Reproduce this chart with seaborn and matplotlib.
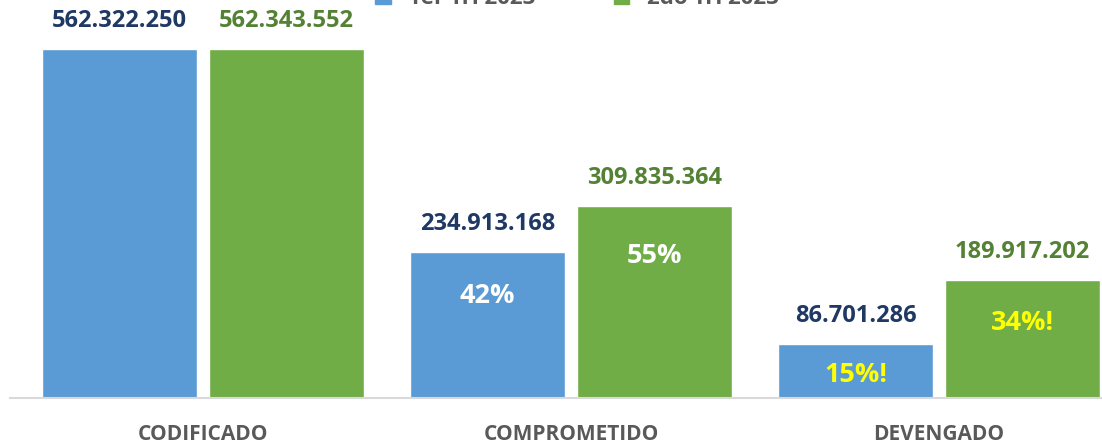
import pandas as pd
import matplotlib.pyplot as plt
import seaborn as sns
from matplotlib.patches import Patch

categories = ["CODIFICADO", "COMPROMETIDO", "DEVENGADO"]
periods = ["1er Tri 2023", "2do Tri 2023"]
q1_values = [562322250, 234913168, 86701286]
q2_values = [562343552, 309835364, 189917202]
q1_pct = [None, "42%", "15%!"]
q2_pct = [None, "55%", "34%!"]

blue = "#5B9BD5"
green = "#70AD47"

df = pd.DataFrame({
    "categoria": categories * 2,
    "periodo": [periods[0]] * 3 + [periods[1]] * 3,
    "valor": q1_values + q2_values,
})

sns.set_theme(style="white")
plt.rcParams["font.family"] = ["Open Sans", "DejaVu Sans"]

fig = plt.figure(figsize=(11.02, 4.45), dpi=100)
ax = fig.add_axes([0, 47 / 445, 1, 398 / 445])

sns.barplot(data=df, x="categoria", y="valor", hue="periodo", palette=[blue, green],
            width=0.9076, gap=0.0718, ax=ax, legend=False, saturation=1)

ax.set_xlim(-0.552, 2.443)
ax.set_ylim(0, 641.3e6)
for s in ["top", "left", "right"]:
    ax.spines[s].set_visible(False)
ax.spines["bottom"].set_color("#D9D9D9")
ax.spines["bottom"].set_linewidth(1.5)
ax.spines["bottom"].set_bounds(-0.524, 2.443)
ax.set_yticks([])
ax.set_xlabel("")
ax.set_ylabel("")
ax.tick_params(axis="x", length=0, pad=19)
ax.set_xticks(range(3))
ax.set_xticklabels(categories, fontsize=15, fontweight="bold", color="#595959")

# label positions inside bars (fraction of bar height), as drawn in the original
pct_pos = [[None, 0.70, 0.43], [None, 0.74, 0.64]]
pct_colors = [[None, "white", "#FFFF00"], [None, "white", "#FFFF00"]]
val_colors = ["#1F3864", "#548235"]
values = [q1_values, q2_values]
pcts = [q1_pct, q2_pct]

for h, cont in enumerate(ax.containers):
    for i, bar in enumerate(cont.patches):
        xc = bar.get_x() + bar.get_width() / 2
        v = values[h][i]
        ax.annotate(f"{v:,}".replace(",", "."), (xc, v), xytext=(0, 20),
                    textcoords="offset points", ha="center", va="center",
                    fontsize=17, fontweight="bold", color=val_colors[h])
        if pcts[h][i]:
            ax.text(xc, v * pct_pos[h][i], pcts[h][i], ha="center", va="center",
                    fontsize=19.5, fontweight="bold", color=pct_colors[h][i])

handles = [Patch(color=blue, label=periods[0]), Patch(color=green, label=periods[1])]
fig.legend(handles=handles, loc="center", bbox_to_anchor=(0.5236, 1.004), ncol=2,
           frameon=False, handlelength=0.7, handleheight=0.7,
           columnspacing=3.5, prop={"weight": "bold", "size": 16},
           labelcolor="#595959")

fig.savefig("out.png", dpi=100)
